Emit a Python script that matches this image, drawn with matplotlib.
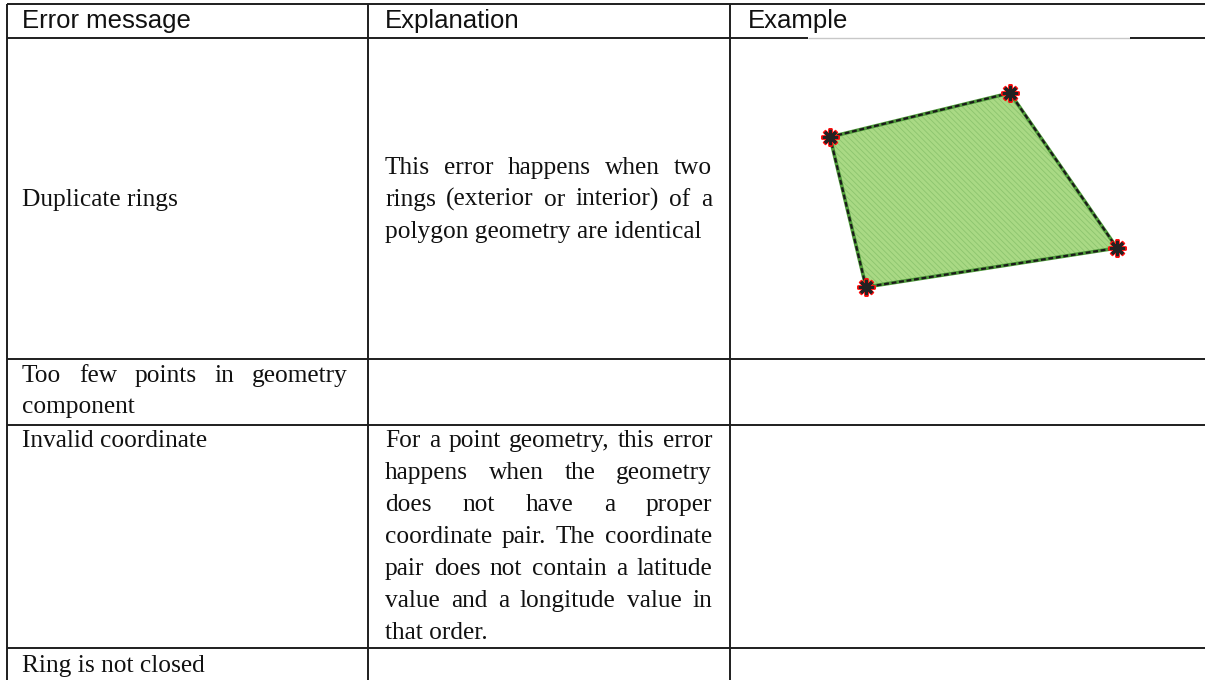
import matplotlib
matplotlib.use("Agg")
import matplotlib.pyplot as plt
from matplotlib.patches import Polygon

# ---------------- data ----------------
headers = ["Error message", "Explanation", "Example"]
error_messages = [
    ["Duplicate rings"],
    ["Too few points in geometry", "component"],
    ["Invalid coordinate"],
    ["Ring is not closed"],
]
explanations = [
    ["This error happens when two",
     "rings (exterior or interior) of a",
     "polygon geometry are identical"],
    [],
    ["For a point geometry, this error",
     "happens when the geometry",
     "does not have a proper",
     "coordinate pair. The coordinate",
     "pair does not contain a latitude",
     "value and a longitude value in",
     "that order."],
    [],
]
# example polygon (image-local coordinates of the vertices)
example_x = [50, 230, 337, 86]
example_y = [77, 33, 188, 227]

# ---------------- layout ----------------
W, H = 1205, 680
fig = plt.figure(figsize=(W / 100, H / 100), dpi=100)
ax = fig.add_axes([0, 0, 1, 1])
ax.set_xlim(0, W)
ax.set_ylim(H, 0)
ax.axis("off")
renderer = fig.canvas.get_renderer()

LC = "#1e1e1e"
LW = 1.4
col_x = [7, 368, 730]
row_y = [4, 38, 359, 425, 648]

# grid lines
ax.plot([col_x[0], W], [row_y[0]] * 2, color=LC, lw=LW, solid_capstyle="butt")
ax.plot([col_x[0], 808], [row_y[1]] * 2, color=LC, lw=LW, solid_capstyle="butt")
ax.plot([808, 1130], [row_y[1]] * 2, color="#c8c8c8", lw=1.0, solid_capstyle="butt")
ax.plot([1130, W], [row_y[1]] * 2, color=LC, lw=LW, solid_capstyle="butt")
for y in row_y[2:]:
    ax.plot([col_x[0], W], [y, y], color=LC, lw=LW, solid_capstyle="butt")
for x in col_x:
    ax.plot([x, x], [row_y[0], H], color=LC, lw=LW, solid_capstyle="butt")

head_font = dict(family=["Liberation Sans", "DejaVu Sans"], fontsize=18.5, color="#111111")
body_font = dict(family=["Liberation Serif", "DejaVu Serif"], fontsize=18.3, color="#111111")

head_x = [22, 385, 748]
for hx, h in zip(head_x, headers):
    ax.text(hx, 28, h, ha="left", va="baseline", **head_font)


def draw_line(text, x0, x1, y, justify):
    words = text.split(" ")
    if not justify or len(words) == 1:
        ax.text(x0, y, text, ha="left", va="baseline", **body_font)
        return
    arts = [ax.text(0, y, w, ha="left", va="baseline", **body_font) for w in words]
    widths = [a.get_window_extent(renderer).width for a in arts]
    gap = (x1 - x0 - sum(widths)) / (len(words) - 1)
    x = x0
    for a, w in zip(arts, widths):
        a.set_x(x)
        x += w + gap


def draw_par(lines, x0, x1, y0, step=32):
    for i, ln in enumerate(lines):
        draw_line(ln, x0, x1, y0 + i * step, justify=(i < len(lines) - 1))


# first baselines of each row
row1_mid = 206
draw_par(error_messages[0], 22, 348, row1_mid)
draw_par(explanations[0], 385, 712, row1_mid - 32)
draw_par(error_messages[1], 22, 348, 382, step=31)
draw_par(error_messages[2], 22, 348, 447)
draw_par(explanations[2], 385, 712, 447)
draw_par(error_messages[3], 22, 348, 672)

# ---------------- example image ----------------
iax = fig.add_axes([780 / W, 1 - 340 / H, 400 / W, 280 / H])
iax.set_xlim(0, 400)
iax.set_ylim(280, 0)
iax.axis("off")
plt.rcParams["hatch.linewidth"] = 0.6
pts = list(zip(example_x, example_y))
iax.add_patch(Polygon(pts, closed=True, facecolor="#a9d984", edgecolor="none", lw=0))
iax.add_patch(Polygon(pts, closed=True, facecolor="none", edgecolor="#8cc46e",
                      lw=0, hatch="\\\\\\\\\\\\"))
px = example_x + example_x[:1]
py = example_y + example_y[:1]
iax.plot(px, py, color="#4f9a3a", lw=2.6, solid_joinstyle="miter")
iax.plot(px, py, color="#1a1a1a", lw=1.6, dashes=(2.2, 1.2))
iax.plot(example_x, example_y, ls="none", marker=(8, 2, 0), ms=13,
         mew=2.8, color="#ff1010")
iax.plot(example_x, example_y, ls="none", marker=(8, 2, 0), ms=11,
         mew=2.0, color="#222222")

fig.savefig("out.png", dpi=100)
